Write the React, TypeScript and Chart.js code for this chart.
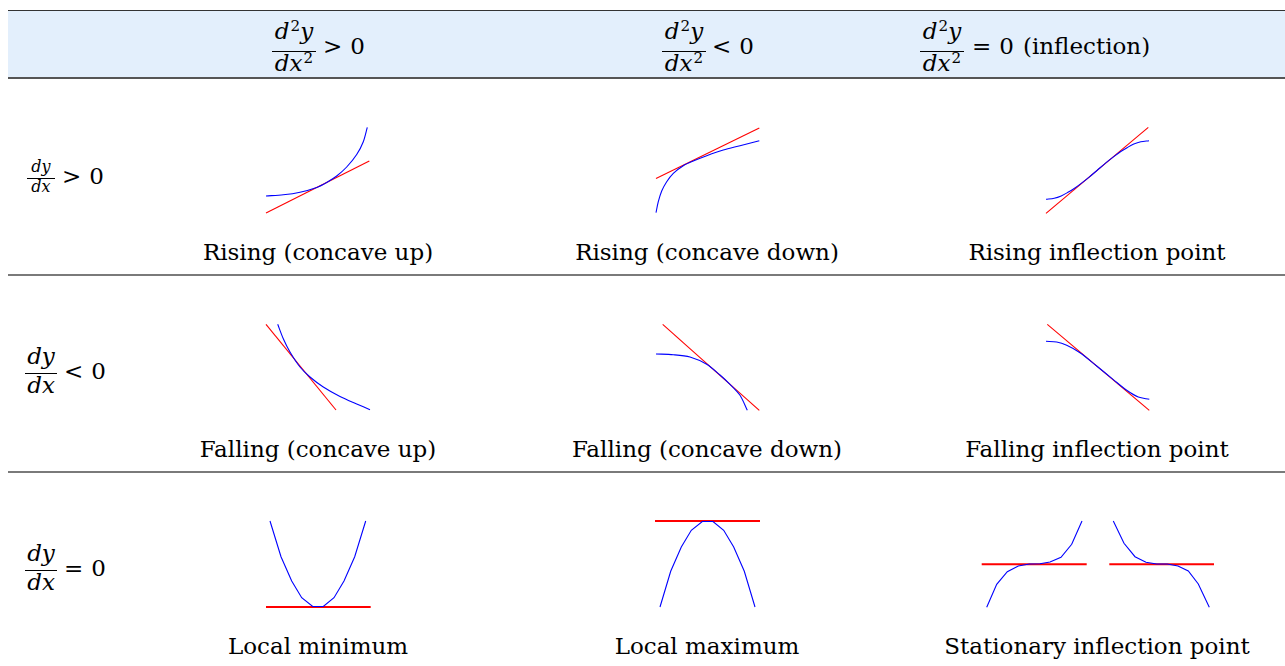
import React, { useEffect, useRef } from 'react';
import { Chart, registerables } from 'chart.js';
Chart.register(...registerables);

type P = [number, number];

// Curve and tangent samples, in plot units (each plot box: x 0..105 right, y 0..86 up)
const risingUpCurve: P[] = [[0, 17], [17.3, 18.2], [34, 20.8], [50.7, 25.6], [60.7, 30.6], [70.7, 37], [80.7, 46], [90.7, 58.5], [97.3, 71.3], [101.3, 85.7]];
const risingUpTangent: P[] = [[0, 0], [103.3, 52]];
const risingDownCurve: P[] = [[1, 0.3], [3.3, 11.3], [6.7, 22], [11.7, 31.3], [18.3, 39.7], [28.3, 47.3], [38.3, 52], [51.7, 57.3], [68.3, 63], [85, 67.3], [104.3, 72.3]];
const risingDownTangent: P[] = [[1, 34.5], [104.3, 85]];
const risingInflCurve: P[] = [[1, 13.7], [9.2, 14.8], [16.2, 17.1], [22.5, 20.4], [29.2, 24.5], [35.9, 29.4], [44.2, 35.9], [52.5, 43], [60.8, 50.1], [69.1, 56.6], [75.8, 61.5], [82.5, 65.6], [88.8, 68.9], [95.8, 71.2], [104, 72.3]];
const risingInflTangent: P[] = [[1, -0.3], [103.3, 85.7]];

const fallingUpCurve: P[] = [[11.7, 85.7], [17.3, 71.3], [24, 58], [34, 43], [44, 33], [57.3, 23], [74, 13.5], [90.7, 6], [104, 0.3]];
const fallingUpTangent: P[] = [[0, 85.7], [70, 0]];
const fallingDownCurve: P[] = [[1, 56], [18.3, 55.3], [35, 53], [51.7, 45.7], [65, 35], [75, 25.7], [85, 14.7], [92.3, -0.3]];
const fallingDownTangent: P[] = [[7.7, 85.7], [104.3, -0.3]];
const fallingInflCurve: P[] = [[1, 68.7], [11.7, 68], [21.7, 64.7], [35, 57.3], [51.7, 44], [68.3, 30.4], [81.7, 19.7], [93.3, 13], [104.3, 10.7]];
const fallingInflTangent: P[] = [[2.3, 85.7], [104.3, -0.3]];

const minimumCurve: P[] = [[4, 86], [15, 50.3], [25.7, 26], [35.7, 9.3], [46.7, 0.5], [57.3, 0.5], [68, 9.3], [78, 26], [88.7, 50.3], [99.7, 86]];
const minimumTangent: P[] = [[0, 0], [104.7, 0]];
const maximumCurve: P[] = [[5, 0], [15.7, 35.7], [26.3, 60], [36.3, 76.7], [47.3, 85.5], [58, 85.5], [68.7, 76.7], [78.7, 60], [89.3, 35.7], [100, 0]];
const maximumTangent: P[] = [[0, 86], [105, 86]];
// stationary inflection plot box is 233 wide (two sketches side by side)
const stationaryRiseCurve: P[] = [[5.7, -0.3], [15.7, 22.7], [26.3, 35.3], [37.3, 41], [48.3, 43], [59, 43.3], [69, 45], [80, 49.7], [90.7, 62.7], [101, 86]];
const stationaryRiseTangent: P[] = [[0.7, 42.7], [105.7, 42.7]];
const stationaryFallCurve: P[] = [[132.3, 86], [143, 63.7], [154, 50.3], [165, 44.7], [175.7, 43], [186.3, 43], [197, 41], [207.3, 36], [217.3, 23], [228.3, -0.3]];
const stationaryFallTangent: P[] = [[128.3, 42.7], [233, 42.7]];

const captionsRow1 = ['Rising (concave up)', 'Rising (concave down)', 'Rising inflection point'];
const captionsRow2 = ['Falling (concave up)', 'Falling (concave down)', 'Falling inflection point'];
const captionsRow3 = ['Local minimum', 'Local maximum', 'Stationary inflection point'];

const SERIF = '"DejaVu Serif", "Liberation Serif", serif';
const BLUE = '#0000ff';
const RED = '#ff0000';
const PAD = 3;
const FS = 23;

type PlotProps = {
  left: number; bottom: number; w: number; h: number;
  curves: P[][]; tangents: P[][]; tangentWidth: number; smooth: boolean;
};

function MiniPlot({ left, bottom, w, h, curves, tangents, tangentWidth, smooth }: PlotProps) {
  const ref = useRef<HTMLCanvasElement>(null);
  useEffect(() => {
    if (!ref.current) return;
    const toPts = (arr: P[]) => arr.map(([x, y]) => ({ x, y }));
    const datasets: any[] = [
      ...curves.map((c) => ({
        data: toPts(c), showLine: true, borderColor: BLUE, borderWidth: 1.1, pointRadius: 0,
        fill: false, tension: smooth ? 0.3 : 0,
      })),
      ...tangents.map((t) => ({
        data: toPts(t), showLine: true, borderColor: RED, borderWidth: tangentWidth, pointRadius: 0, fill: false, tension: 0,
      })),
    ];
    const chart = new Chart(ref.current, {
      type: 'scatter',
      data: { datasets },
      options: {
        animation: false,
        responsive: false,
        maintainAspectRatio: false,
        events: [],
        layout: { padding: 0 },
        plugins: { legend: { display: false }, tooltip: { enabled: false } },
        scales: {
          x: { type: 'linear', display: false, min: -PAD, max: w + PAD },
          y: { type: 'linear', display: false, min: -PAD, max: h + PAD },
        },
      },
    });
    return () => chart.destroy();
  }, []);
  return (
    <canvas
      ref={ref}
      width={w + 2 * PAD}
      height={h + 2 * PAD}
      style={{ position: 'absolute', left: left - PAD, top: bottom - h - PAD, width: w + 2 * PAD, height: h + 2 * PAD }}
    />
  );
}

const It = ({ children }: any) => <span style={{ fontStyle: 'italic' }}>{children}</span>;
const Sup = ({ children }: any) => (
  <span style={{ fontSize: '0.66em', position: 'relative', top: '-0.5em', marginLeft: 1, fontStyle: 'normal' }}>{children}</span>
);

type LabelProps = { left: number; barY: number; size: number; fracW: number; num: any; den: any; relLeft: number; rel: any };

function MathLabel({ left, barY, size, fracW, num, den, relLeft, rel }: LabelProps) {
  const padNum = Math.round(size * 0.2);
  return (
    <>
      <div style={{ position: 'absolute', left, top: barY - size - padNum, width: fracW, display: 'flex', flexDirection: 'column', alignItems: 'center', fontSize: size, lineHeight: `${size}px`, whiteSpace: 'nowrap' }}>
        <div style={{ paddingBottom: padNum }}>{num}</div>
        <div style={{ alignSelf: 'stretch', height: 1, background: '#000' }} />
        <div>{den}</div>
      </div>
      <div style={{ position: 'absolute', left: relLeft, top: barY - Math.round(FS * 0.56), fontSize: FS, lineHeight: `${FS}px`, whiteSpace: 'nowrap' }}>
        {rel}
      </div>
    </>
  );
}

const d2y = <><It>d</It><Sup>2</Sup><It>y</It></>;
const dx2 = <><It>d</It><It>x</It><Sup>2</Sup></>;
const dy = <><It>d</It><It>y</It></>;
const dx = <><It>d</It><It>x</It></>;
const Rel = ({ sym, rest }: { sym: string; rest?: string }) => (
  <span><span>{sym}</span><span style={{ marginLeft: 8 }}>0</span>{rest ? <span style={{ marginLeft: 9 }}>{rest}</span> : null}</span>
);

const COL_CENTER = [318, 707, 1097];

function Caption({ cx, top, text }: { cx: number; top: number; text: string }) {
  return (
    <div style={{ position: 'absolute', left: cx - 250, width: 500, top, textAlign: 'center', fontSize: FS, lineHeight: `${FS}px`, whiteSpace: 'nowrap' }}>
      {text}
    </div>
  );
}

function HLine({ y, h, color }: { y: number; h: number; color: string }) {
  return <div style={{ position: 'absolute', left: 8, width: 1277, top: y, height: h, background: color }} />;
}

export default function App() {
  const colLeft = [266, 655, 1045];
  const rowBottom = [213, 410, 607];
  return (
    <div style={{ position: 'absolute', left: 0, top: 0, width: 1285, height: 666, overflow: 'hidden', background: '#fff', fontFamily: SERIF, color: '#000' }}>
      <div style={{ position: 'absolute', left: 8, top: 10, width: 1277, height: 68, background: '#e3effc' }} />
      <HLine y={10} h={1} color="#333" />
      <HLine y={77} h={2} color="#555" />
      <HLine y={274} h={2} color="#7a7a7a" />
      <HLine y={471} h={2} color="#7a7a7a" />

      <MathLabel left={272} barY={48} size={FS} fracW={44} num={d2y} den={dx2} relLeft={323} rel={<Rel sym=">" />} />
      <MathLabel left={662} barY={48} size={FS} fracW={44} num={d2y} den={dx2} relLeft={712} rel={<Rel sym="<" />} />
      <MathLabel left={920} barY={48} size={FS} fracW={44} num={d2y} den={dx2} relLeft={972} rel={<Rel sym="=" rest="(inflection)" />} />

      <MathLabel left={27} barY={178} size={16} fracW={28} num={dy} den={dx} relLeft={62} rel={<Rel sym=">" />} />
      <MathLabel left={25} barY={373} size={FS} fracW={32} num={dy} den={dx} relLeft={64} rel={<Rel sym="<" />} />
      <MathLabel left={25} barY={570} size={FS} fracW={32} num={dy} den={dx} relLeft={64} rel={<Rel sym="=" />} />

      <MiniPlot left={colLeft[0]} bottom={rowBottom[0]} w={105} h={86} curves={[risingUpCurve]} tangents={[risingUpTangent]} tangentWidth={1.1} smooth />
      <MiniPlot left={colLeft[1]} bottom={rowBottom[0]} w={105} h={86} curves={[risingDownCurve]} tangents={[risingDownTangent]} tangentWidth={1.1} smooth />
      <MiniPlot left={colLeft[2]} bottom={rowBottom[0]} w={105} h={86} curves={[risingInflCurve]} tangents={[risingInflTangent]} tangentWidth={1.1} smooth />

      <MiniPlot left={colLeft[0]} bottom={rowBottom[1]} w={105} h={86} curves={[fallingUpCurve]} tangents={[fallingUpTangent]} tangentWidth={1.1} smooth />
      <MiniPlot left={colLeft[1]} bottom={rowBottom[1]} w={105} h={86} curves={[fallingDownCurve]} tangents={[fallingDownTangent]} tangentWidth={1.1} smooth />
      <MiniPlot left={colLeft[2]} bottom={rowBottom[1]} w={105} h={86} curves={[fallingInflCurve]} tangents={[fallingInflTangent]} tangentWidth={1.1} smooth />

      <MiniPlot left={colLeft[0]} bottom={rowBottom[2]} w={105} h={86} curves={[minimumCurve]} tangents={[minimumTangent]} tangentWidth={2} smooth={false} />
      <MiniPlot left={colLeft[1]} bottom={rowBottom[2]} w={105} h={86} curves={[maximumCurve]} tangents={[maximumTangent]} tangentWidth={2} smooth={false} />
      <MiniPlot left={981} bottom={rowBottom[2]} w={233} h={86} curves={[stationaryRiseCurve, stationaryFallCurve]} tangents={[stationaryRiseTangent, stationaryFallTangent]} tangentWidth={2} smooth={false} />

      {captionsRow1.map((t, i) => <Caption key={'a' + i} cx={COL_CENTER[i]} top={241} text={t} />)}
      {captionsRow2.map((t, i) => <Caption key={'b' + i} cx={COL_CENTER[i]} top={438} text={t} />)}
      {captionsRow3.map((t, i) => <Caption key={'c' + i} cx={COL_CENTER[i]} top={635} text={t} />)}
    </div>
  );
}
